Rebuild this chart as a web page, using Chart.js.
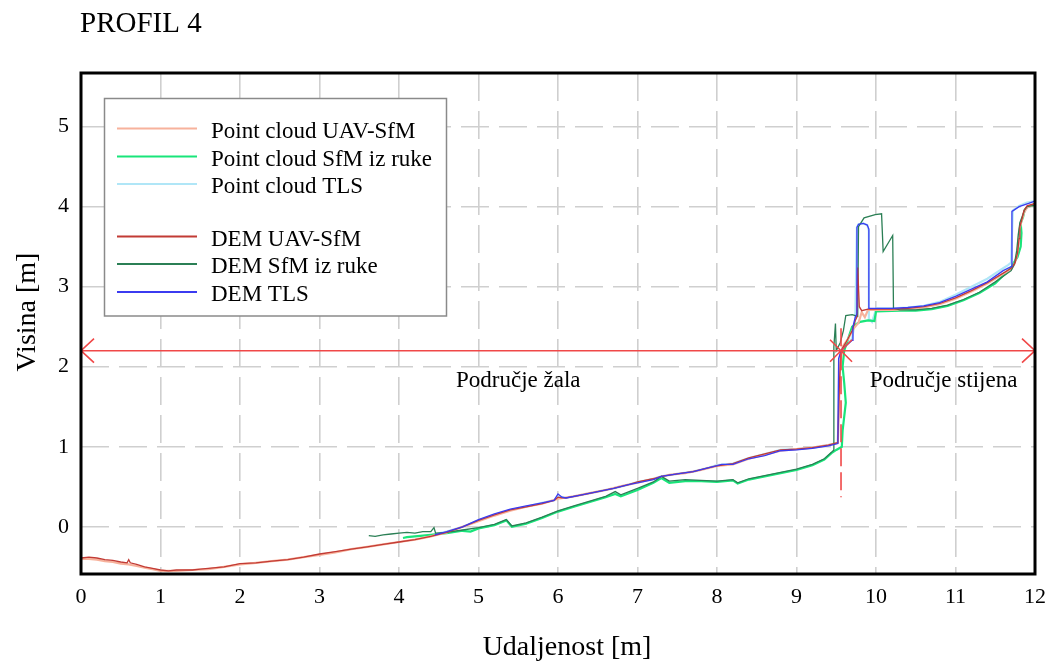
<!DOCTYPE html>
<html>
<head>
<meta charset="utf-8">
<script src="https://cdn.jsdelivr.net/npm/chart.js@4.4.0/dist/chart.umd.min.js"></script>
<style>
  html, body { margin: 0; padding: 0; background: #fff; }
  #wrap { width: 1056px; height: 661px; }
</style>
</head>
<body>
<div id="wrap"><canvas id="profil" width="1056" height="661"></canvas></div>
<script>
// tick labels
const xTicks = [0, 1, 2, 3, 4, 5, 6, 7, 8, 9, 10, 11, 12];
const yTicks = [0, 1, 2, 3, 4, 5];

// DEM UAV-SfM
const demUavX = [0, 0.1, 0.2, 0.3, 0.4, 0.5, 0.58, 0.6, 0.62, 0.7, 0.8, 0.9, 1.0, 1.1, 1.2, 1.3, 1.4, 1.5, 1.6, 1.8,
  2.0, 2.2, 2.4, 2.6, 2.8, 3.0, 3.2, 3.4, 3.6, 3.8, 4.0, 4.2, 4.4, 4.6, 4.8, 5.0, 5.2, 5.4, 5.6, 5.8,
  5.95, 6.0, 6.05, 6.1, 6.3, 6.5, 6.7, 6.9, 7.0, 7.2, 7.3, 7.5, 7.7, 7.9, 8.0, 8.2, 8.4, 8.6, 8.8, 9.0,
  9.2, 9.4, 9.52, 9.54, 9.56, 9.62, 9.7, 9.74, 9.76, 9.77, 9.79, 9.82, 9.9, 10.0, 10.2, 10.4, 10.6, 10.8, 11.0, 11.2,
  11.4, 11.6, 11.7, 11.75, 11.78, 11.8, 11.81, 11.84, 11.86, 11.9, 12.0];
const demUavY = [-0.39, -0.38, -0.39, -0.41, -0.42, -0.44, -0.45, -0.41, -0.45, -0.47, -0.50, -0.52, -0.54, -0.55, -0.54, -0.54, -0.54, -0.53, -0.52, -0.50,
  -0.46, -0.45, -0.43, -0.41, -0.38, -0.34, -0.31, -0.28, -0.25, -0.22, -0.19, -0.16, -0.12, -0.07, 0.00, 0.08, 0.15, 0.21, 0.25, 0.29,
  0.33, 0.37, 0.36, 0.36, 0.40, 0.44, 0.48, 0.53, 0.56, 0.60, 0.63, 0.66, 0.69, 0.74, 0.76, 0.79, 0.86, 0.91, 0.96, 0.97,
  0.99, 1.02, 1.05, 1.80, 2.20, 2.30, 2.45, 2.58, 2.62, 3.24, 2.75, 2.70, 2.72, 2.72, 2.72, 2.73, 2.75, 2.79, 2.86, 2.95,
  3.05, 3.17, 3.23, 3.30, 3.42, 3.60, 3.75, 3.86, 3.95, 4.01, 4.04];

// Point cloud UAV-SfM
const pcUavX = [0, 0.1, 0.2, 0.3, 0.4, 0.5, 0.6, 0.7, 0.8, 0.9, 1.0, 1.1, 1.2, 1.4, 1.6, 1.8,
  2.0, 2.2, 2.4, 2.6, 2.8, 3.0, 3.2, 3.4, 3.6, 3.8, 4.0, 4.2, 4.4, 4.6, 4.8, 5.0, 5.2, 5.4, 5.6, 5.8,
  6.0, 6.2, 6.4, 6.6, 6.8, 7.0, 7.2, 7.4, 7.6, 7.8, 8.0, 8.2, 8.4, 8.6, 8.8, 9.0,
  9.2, 9.4, 9.52, 9.55, 9.58, 9.65, 9.72, 9.78, 9.82, 9.86, 9.9, 10.0, 10.2, 10.4, 10.6, 10.8, 11.0, 11.2,
  11.4, 11.6, 11.7, 11.74, 11.77, 11.79, 11.8, 11.83, 11.86, 11.9, 12.0];
const pcUavY = [-0.40, -0.40, -0.41, -0.43, -0.44, -0.46, -0.47, -0.49, -0.51, -0.53, -0.55, -0.55, -0.55, -0.54, -0.53, -0.50,
  -0.47, -0.45, -0.43, -0.41, -0.38, -0.35, -0.32, -0.28, -0.25, -0.22, -0.19, -0.16, -0.12, -0.07, 0.00, 0.07, 0.14, 0.20, 0.25, 0.29,
  0.35, 0.38, 0.42, 0.46, 0.51, 0.55, 0.60, 0.65, 0.67, 0.71, 0.76, 0.78, 0.85, 0.90, 0.95, 0.97,
  0.99, 1.02, 1.05, 2.05, 2.25, 2.35, 2.48, 2.55, 2.68, 2.62, 2.71, 2.71, 2.71, 2.72, 2.74, 2.78, 2.85, 2.94,
  3.04, 3.16, 3.22, 3.28, 3.38, 3.52, 3.70, 3.82, 3.92, 3.99, 4.03];

// Point cloud SfM iz ruke
const pcSfmX = [4.05, 4.1, 4.2, 4.3, 4.4, 4.5, 4.6, 4.8, 4.9, 5.0, 5.2, 5.35, 5.42, 5.6, 5.8, 6.0, 6.2, 6.4, 6.6, 6.72,
  6.79, 7.0, 7.2, 7.3, 7.4, 7.6, 7.8, 8.0, 8.2, 8.26, 8.4, 8.6, 8.8, 9.0, 9.2, 9.35, 9.44, 9.5, 9.57, 9.58,
  9.62, 9.6, 9.58, 9.6, 9.65, 9.7, 9.8, 9.9, 9.98, 10.0, 10.3, 10.5, 10.7, 10.9, 11.1, 11.3, 11.5, 11.62, 11.7, 11.74,
  11.78, 11.82, 11.83, 11.82, 11.85, 11.87, 11.91, 12.0];
const pcSfmY = [-0.14, -0.13, -0.12, -0.11, -0.10, -0.09, -0.08, -0.05, -0.06, -0.02, 0.02, 0.08, 0.00, 0.04, 0.11, 0.19, 0.25, 0.31, 0.37, 0.41,
  0.38, 0.46, 0.55, 0.61, 0.55, 0.57, 0.57, 0.56, 0.58, 0.54, 0.59, 0.63, 0.67, 0.71, 0.77, 0.84, 0.92, 0.96, 1.00, 1.20,
  1.55, 1.80, 2.00, 2.20, 2.35, 2.50, 2.56, 2.58, 2.57, 2.69, 2.70, 2.70, 2.72, 2.76, 2.83, 2.92, 3.04, 3.16, 3.24, 3.31,
  3.37, 3.50, 3.67, 3.79, 3.87, 3.96, 4.00, 4.02];

// Point cloud TLS
const pcTlsX = [4.42, 4.6, 4.8, 5.0, 5.2, 5.4, 5.6, 5.8, 5.95, 6.0, 6.05, 6.1, 6.3, 6.5, 6.7, 6.9, 7.0, 7.2, 7.3, 7.5,
  7.7, 7.9, 8.0, 8.2, 8.4, 8.6, 8.8, 9.0, 9.2, 9.4, 9.52, 9.54, 9.6, 9.7, 9.74, 9.76, 9.78, 9.84, 9.89, 9.91,
  9.91, 9.95, 9.98, 10.0, 10.2, 10.4, 10.6, 10.8, 11.0, 11.2, 11.4, 11.6, 11.66, 11.7, 11.72, 11.8, 11.9, 12.0];
const pcTlsY = [-0.10, -0.06, 0.00, 0.08, 0.15, 0.21, 0.25, 0.30, 0.33, 0.38, 0.37, 0.36, 0.40, 0.44, 0.48, 0.53, 0.56, 0.60, 0.63, 0.66,
  0.69, 0.74, 0.77, 0.79, 0.86, 0.91, 0.96, 0.97, 0.99, 1.02, 1.05, 2.10, 2.25, 2.35, 2.60, 3.74, 3.78, 3.79, 3.77, 3.70,
  2.60, 2.56, 2.65, 2.73, 2.73, 2.74, 2.76, 2.81, 2.90, 3.00, 3.10, 3.23, 3.27, 3.30, 3.95, 4.01, 4.05, 4.07];

// DEM SfM iz ruke
const demSfmX = [3.62, 3.7, 3.8, 3.9, 4.0, 4.1, 4.2, 4.3, 4.4, 4.44, 4.46, 4.6, 4.8, 5.0, 5.2, 5.35, 5.42, 5.6, 5.8, 6.0,
  6.2, 6.4, 6.6, 6.72, 6.79, 7.0, 7.2, 7.3, 7.4, 7.6, 7.8, 8.0, 8.2, 8.26, 8.4, 8.6, 8.8, 9.0, 9.2, 9.35,
  9.44, 9.47, 9.47, 9.49, 9.5, 9.55, 9.59, 9.62, 9.7, 9.77, 9.78, 9.85, 9.99, 10.07, 10.09, 10.21, 10.22, 10.3, 10.5, 10.7,
  10.9, 11.1, 11.3, 11.5, 11.7, 11.74, 11.77, 11.79, 11.81, 11.84, 11.87, 11.9, 12.0];
const demSfmY = [-0.11, -0.12, -0.10, -0.09, -0.08, -0.07, -0.08, -0.06, -0.06, -0.01, -0.08, -0.07, -0.04, -0.01, 0.03, 0.09, 0.01, 0.05, 0.12, 0.20,
  0.26, 0.32, 0.38, 0.44, 0.40, 0.48, 0.56, 0.63, 0.57, 0.59, 0.58, 0.57, 0.59, 0.55, 0.60, 0.64, 0.68, 0.72, 0.78, 0.85,
  0.93, 0.96, 2.25, 2.54, 2.20, 2.30, 2.45, 2.64, 2.65, 2.63, 3.75, 3.86, 3.90, 3.91, 3.44, 3.64, 2.73, 2.71, 2.71, 2.73,
  2.77, 2.84, 2.93, 3.06, 3.20, 3.28, 3.45, 3.65, 3.80, 3.88, 3.96, 4.00, 4.02];

// DEM TLS
const demTlsX = [4.45, 4.6, 4.8, 5.0, 5.2, 5.4, 5.6, 5.8, 5.95, 6.0, 6.05, 6.1, 6.3, 6.5, 6.7, 6.9, 7.0, 7.2, 7.3, 7.5,
  7.7, 7.9, 8.06, 8.2, 8.4, 8.6, 8.8, 9.0, 9.2, 9.4, 9.52, 9.53, 9.56, 9.62, 9.7, 9.71, 9.74, 9.76, 9.76, 9.78,
  9.84, 9.89, 9.91, 9.91, 10.0, 10.2, 10.4, 10.6, 10.8, 11.0, 11.2, 11.4, 11.6, 11.7, 11.71, 11.8, 11.92, 12.0];
const demTlsY = [-0.10, -0.06, 0.00, 0.09, 0.16, 0.22, 0.26, 0.30, 0.33, 0.41, 0.37, 0.36, 0.40, 0.44, 0.48, 0.53, 0.55, 0.59, 0.63, 0.66,
  0.69, 0.74, 0.78, 0.78, 0.85, 0.89, 0.95, 0.96, 0.98, 1.01, 1.04, 2.10, 2.20, 2.26, 2.33, 2.50, 2.62, 2.66, 3.74, 3.78,
  3.79, 3.77, 3.72, 2.73, 2.73, 2.73, 2.74, 2.76, 2.80, 2.88, 2.97, 3.06, 3.20, 3.25, 3.94, 4.00, 4.04, 4.07];

// annotation values
const zoneLineY = 2.2;
const zoneSplitX = 9.56;
const splitDashFrom = 2.48, splitDashTo = 0.37;
const zoneLabels = [
  { text: 'Područje žala', x: 5.5, y: 1.75 },
  { text: 'Područje stijena', x: 10.85, y: 1.75 }
];

const SERIF = '"Liberation Serif", "Times New Roman", serif';
Chart.defaults.font.family = SERIF;
Chart.defaults.color = '#000';

function pts(xs, ys) {
  return xs.map((x, i) => ({ x: x, y: ys[i] }));
}

function cloudSet(label, xs, ys, color) {
  return { label, data: pts(xs, ys), borderColor: color, borderWidth: 2.2, order: 3 };
}

function demSet(label, xs, ys, color, order) {
  return { label, data: pts(xs, ys), borderColor: color, borderWidth: 1.3, order: order };
}

const datasets = [
  cloudSet('Point cloud UAV-SfM', pcUavX, pcUavY, '#f7b29c'),
  cloudSet('Point cloud SfM iz ruke', pcSfmX, pcSfmY, '#19e57a'),
  cloudSet('Point cloud TLS', pcTlsX, pcTlsY, '#b0e6f7'),
  demSet('DEM UAV-SfM', demUavX, demUavY, '#c23b35', 1),
  demSet('DEM SfM iz ruke', demSfmX, demSfmY, '#2b7f55', 1),
  demSet('DEM TLS', demTlsX, demTlsY, '#3b3bf0', 0)
];

const decor = {
  id: 'decor',
  afterDatasetsDraw(chart) {
    const { ctx, chartArea: a, scales: { x, y } } = chart;
    ctx.save();

    // zone line with arrows
    const ly = y.getPixelForValue(zoneLineY);
    const lx0 = x.getPixelForValue(0), lx1 = x.getPixelForValue(12);
    ctx.strokeStyle = '#f04848';
    ctx.lineWidth = 1.6;
    ctx.beginPath();
    ctx.moveTo(lx0, ly); ctx.lineTo(lx1, ly);
    ctx.moveTo(lx0 + 13, ly - 12); ctx.lineTo(lx0, ly); ctx.lineTo(lx0 + 13, ly + 12);
    ctx.moveTo(lx1 - 13, ly - 12); ctx.lineTo(lx1, ly); ctx.lineTo(lx1 - 13, ly + 12);
    const sx = x.getPixelForValue(zoneSplitX);
    ctx.moveTo(sx - 11, ly - 11); ctx.lineTo(sx + 11, ly + 11);
    ctx.moveTo(sx + 11, ly - 11); ctx.lineTo(sx - 11, ly + 11);
    ctx.stroke();

    ctx.setLineDash([18, 6]);
    ctx.beginPath();
    ctx.moveTo(sx, y.getPixelForValue(splitDashFrom));
    ctx.lineTo(sx, y.getPixelForValue(splitDashTo));
    ctx.stroke();
    ctx.setLineDash([]);

    ctx.fillStyle = '#000';
    ctx.font = '23px ' + SERIF;
    ctx.textAlign = 'center';
    ctx.textBaseline = 'alphabetic';
    zoneLabels.forEach(l => ctx.fillText(l.text, x.getPixelForValue(l.x), y.getPixelForValue(l.y)));

    // legend box
    ctx.fillStyle = '#fff';
    ctx.fillRect(104.5, 98.5, 342, 217.5);
    ctx.strokeStyle = '#8a8a8a';
    ctx.lineWidth = 1.5;
    ctx.strokeRect(104.5, 98.5, 342, 217.5);
    const rows = [128.5, 156.5, 184, 236.5, 264, 292];
    ctx.textAlign = 'left';
    ctx.textBaseline = 'middle';
    chart.data.datasets.forEach((ds, i) => {
      const ry = rows[i];
      ctx.strokeStyle = ds.borderColor;
      ctx.lineWidth = 2;
      ctx.beginPath();
      ctx.moveTo(117, ry); ctx.lineTo(197, ry);
      ctx.stroke();
      ctx.fillStyle = '#000';
      ctx.fillText(ds.label, 211, ry + 3);
    });

    // frame
    ctx.strokeStyle = '#000';
    ctx.lineWidth = 3;
    ctx.strokeRect(a.left, a.top, a.right - a.left, a.bottom - a.top);

    // titles
    ctx.fillStyle = '#000';
    ctx.font = '29px ' + SERIF;
    ctx.textAlign = 'left';
    ctx.textBaseline = 'alphabetic';
    ctx.fillText('PROFIL 4', 80, 32);

    ctx.font = '28px ' + SERIF;
    ctx.textAlign = 'center';
    ctx.fillText('Udaljenost [m]', 567, 655);

    ctx.translate(35, 312);
    ctx.rotate(-Math.PI / 2);
    ctx.fillText('Visina [m]', 0, 0);
    ctx.restore();
  }
};

const gridStyle = { color: '#cfcfcf', lineWidth: 1.6, drawTicks: false };

new Chart(document.getElementById('profil'), {
  type: 'line',
  data: { datasets },
  options: {
    responsive: false,
    animation: false,
    devicePixelRatio: 1,
    parsing: true,
    elements: { point: { radius: 0 }, line: { tension: 0, fill: false } },
    layout: { padding: { top: 73, right: 15, left: 0, bottom: 0 } },
    plugins: { legend: { display: false }, tooltip: { enabled: false }, title: { display: false } },
    scales: {
      x: {
        type: 'linear',
        min: 0,
        max: 12,
        afterBuildTicks: s => { s.ticks = xTicks.map(v => ({ value: v })); },
        afterFit: s => { s.height = 87; },
        ticks: { font: { size: 22 }, color: '#000', padding: 10, maxRotation: 0 },
        grid: gridStyle,
        border: { display: false, dash: [28, 10] }
      },
      y: {
        type: 'linear',
        min: -0.59,
        max: 5.67,
        afterBuildTicks: s => { s.ticks = yTicks.map(v => ({ value: v })); },
        afterFit: s => { s.width = 81; },
        ticks: { font: { size: 22 }, color: '#000', padding: 12 },
        grid: gridStyle,
        border: { display: false, dash: [28, 10] }
      }
    }
  },
  plugins: [decor]
});
</script>
</body>
</html>
